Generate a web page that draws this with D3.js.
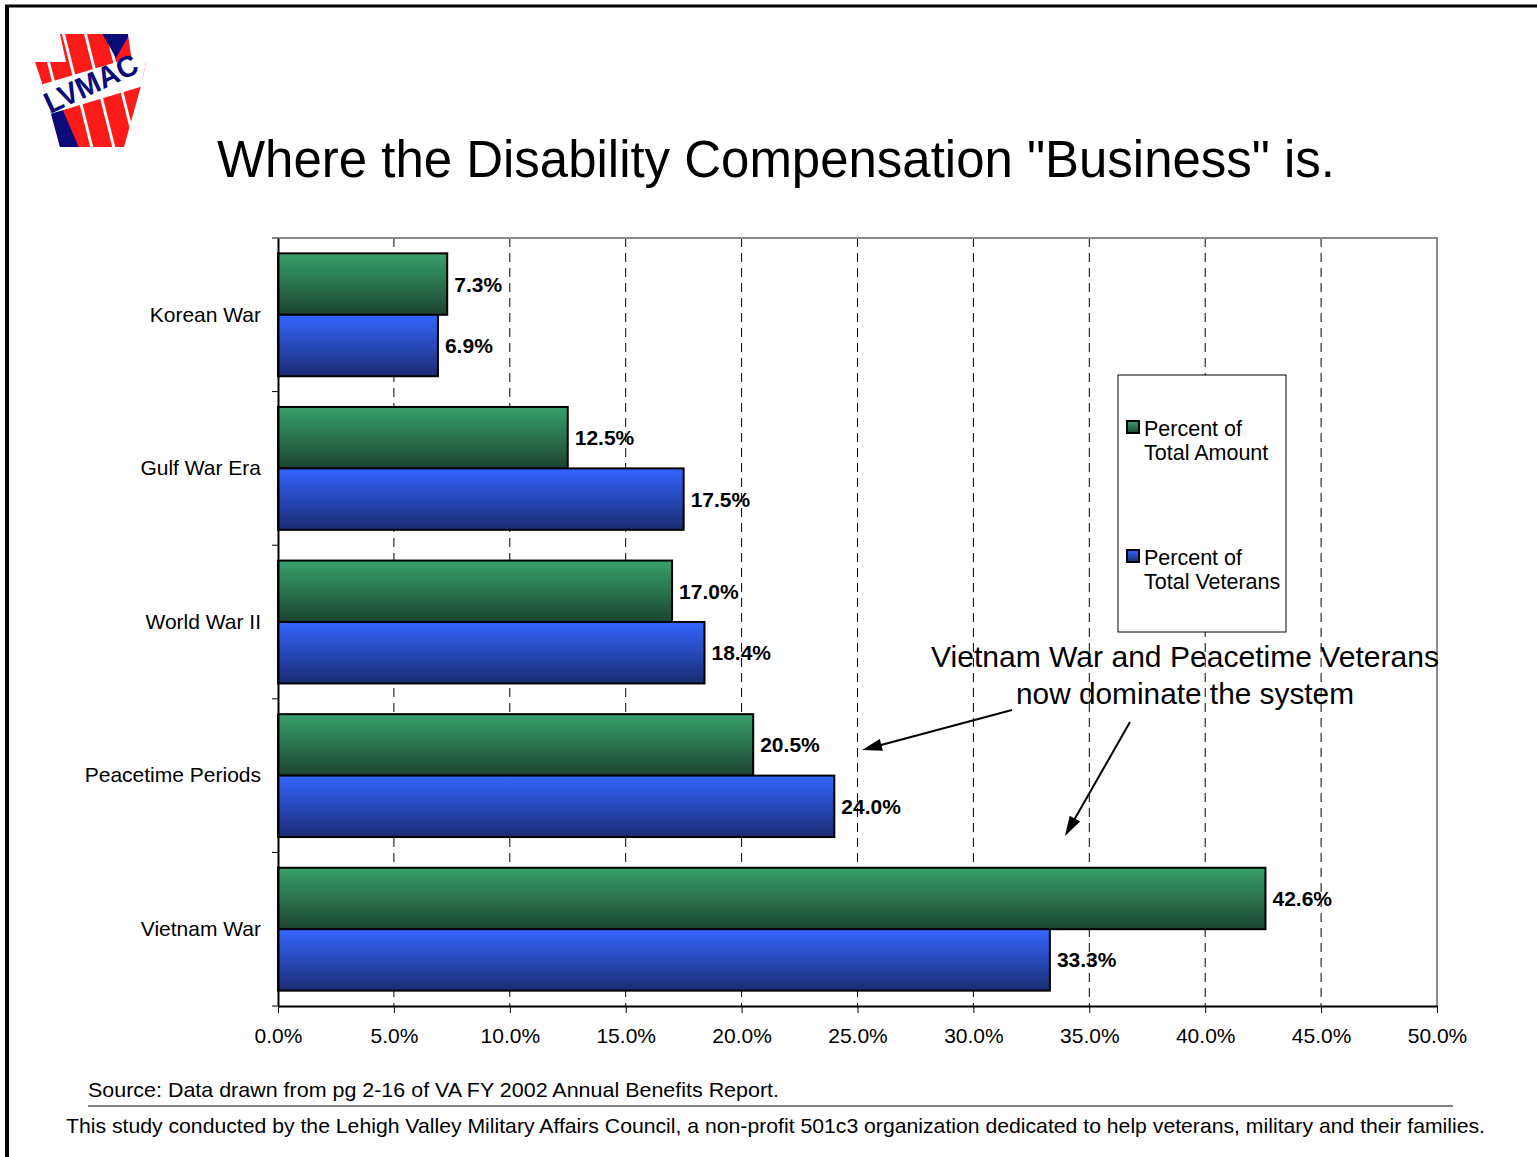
<!DOCTYPE html>
<html>
<head>
<meta charset="utf-8">
<script src="https://cdn.jsdelivr.net/npm/d3@7/dist/d3.min.js"></script>
<style>
  html, body { margin: 0; padding: 0; background: #fff; }
  svg { display: block; font-family: "Liberation Sans", Arial, Helvetica, sans-serif; }
</style>
</head>
<body>
<svg id="chart" width="1537" height="1157"></svg>
<script>
// Service eras, top to bottom
const categories = ["Korean War", "Gulf War Era", "World War II", "Peacetime Periods", "Vietnam War"];
// Share of total compensation dollars (%)
const percentAmount = [7.3, 12.5, 17.0, 20.5, 42.6];
// Share of total veterans receiving compensation (%)
const percentVeterans = [6.9, 17.5, 18.4, 24.0, 33.3];
const seriesNames = ["Percent of Total Amount", "Percent of Total Veterans"];
const xTicks = [0, 5, 10, 15, 20, 25, 30, 35, 40, 45, 50];

const svg = d3.select("#chart");
const W = 1537, H = 1157;
const plot = { left: 278, right: 1437, top: 238, bottom: 1006 };

// Gradients for the bar fills
const defs = svg.append("defs");
function vGrad(id, top, bottom) {
  const g = defs.append("linearGradient").attr("id", id)
    .attr("x1", 0).attr("y1", 0).attr("x2", 0).attr("y2", 1);
  g.append("stop").attr("offset", "0%").attr("stop-color", top);
  g.append("stop").attr("offset", "100%").attr("stop-color", bottom);
}
vGrad("gGreen", "#37a06d", "#1c4430");
vGrad("gBlue", "#3366ff", "#1a2b72");

// Page frame
svg.append("line").attr("x1", 5).attr("x2", W).attr("y1", 6).attr("y2", 6)
  .attr("stroke", "#000").attr("stroke-width", 3);
svg.append("line").attr("x1", 7).attr("x2", 7).attr("y1", 5).attr("y2", H)
  .attr("stroke", "#000").attr("stroke-width", 4);

// Logo: keystone with stripes and lettering
const logo = svg.append("g");
defs.append("clipPath").attr("id", "keystone").append("polygon")
  .attr("points", "60,34 128,34 132,62 146,62 141,86 124,147 60,147 46,95 35,62 66,62");
const lg = logo.append("g").attr("clip-path", "url(#keystone)");
lg.append("rect").attr("x", 30).attr("y", 30).attr("width", 120).attr("height", 120).attr("fill", "#fff");
// slanted red stripes
const stripeXs = [20, 42, 64, 86, 108, 130];
stripeXs.forEach(sx => {
  lg.append("polygon")
    .attr("points", `${sx},30 ${sx + 19},30 ${sx + 49},150 ${sx + 30},150`)
    .attr("fill", "#ff1a1a");
});
// navy corners
lg.append("polygon").attr("points", "100,30 132,30 116,58").attr("fill", "#0a0a78");
lg.append("polygon").attr("points", "44,112 62,108 80,150 56,150").attr("fill", "#0a0a78");
// white band behind lettering
lg.append("polygon").attr("points", "30,88 150,52 150,84 30,120").attr("fill", "#fff");
logo.append("text").attr("x", 0).attr("y", 0)
  .attr("transform", "translate(50,114) rotate(-25)")
  .attr("font-size", 30).attr("font-weight", "bold").attr("fill", "#0a0a78")
  .attr("textLength", 100).attr("lengthAdjust", "spacingAndGlyphs")
  .text("LVMAC");

// Title
svg.append("text").attr("x", 776).attr("y", 177).attr("text-anchor", "middle")
  .attr("font-size", 51).attr("fill", "#000")
  .attr("textLength", 1118).attr("lengthAdjust", "spacingAndGlyphs")
  .text('Where the Disability Compensation "Business" is.');

// Scales
const x = d3.scaleLinear().domain([0, 50]).range([plot.left, plot.right]);
const y = d3.scaleBand().domain(categories).range([plot.top, plot.bottom])
  .paddingInner(0.2).paddingOuter(0.1);
const yCat = d3.scaleBand().domain(categories).range([plot.top, plot.bottom]);

// Dashed vertical gridlines
svg.append("g").selectAll("line").data(xTicks.filter(t => t > 0 && t < 50)).join("line")
  .attr("x1", d => x(d)).attr("x2", d => x(d))
  .attr("y1", plot.top).attr("y2", plot.bottom)
  .attr("stroke", "#000").attr("stroke-width", 1).attr("stroke-dasharray", "9,6");

// Plot frame (top and right in gray)
svg.append("path")
  .attr("d", `M${plot.left},${plot.top}H${plot.right}V${plot.bottom}`)
  .attr("fill", "none").attr("stroke", "#8c8c8c").attr("stroke-width", 2);

// Bars
const half = y.bandwidth() / 2;
const rows = categories.map((c, i) => ({ c, a: percentAmount[i], v: percentVeterans[i] }));
const bars = svg.append("g");
bars.selectAll("rect.amt").data(rows).join("rect").attr("class", "amt")
  .attr("x", x(0)).attr("y", d => y(d.c))
  .attr("width", d => x(d.a) - x(0)).attr("height", half)
  .attr("fill", "url(#gGreen)").attr("stroke", "#000").attr("stroke-width", 2);
bars.selectAll("rect.vet").data(rows).join("rect").attr("class", "vet")
  .attr("x", x(0)).attr("y", d => y(d.c) + half)
  .attr("width", d => x(d.v) - x(0)).attr("height", half)
  .attr("fill", "url(#gBlue)").attr("stroke", "#000").attr("stroke-width", 2);

// Value labels
const fmt = d => d.toFixed(1) + "%";
svg.append("g").selectAll("text").data(rows).join("text")
  .attr("x", d => x(d.a) + 7).attr("y", d => y(d.c) + half / 2)
  .attr("dy", "0.36em").attr("font-size", 21).attr("font-weight", "bold")
  .text(d => fmt(d.a));
svg.append("g").selectAll("text").data(rows).join("text")
  .attr("x", d => x(d.v) + 7).attr("y", d => y(d.c) + half * 1.5)
  .attr("dy", "0.36em").attr("font-size", 21).attr("font-weight", "bold")
  .text(d => fmt(d.v));

// Axes
const xAxis = svg.append("g").attr("transform", `translate(0,${plot.bottom})`)
  .call(d3.axisBottom(x).tickValues(xTicks).tickFormat(d => d.toFixed(1) + "%")
    .tickSize(7).tickSizeOuter(0).tickPadding(15));
xAxis.select(".domain").attr("stroke", "#000").attr("stroke-width", 2);
xAxis.selectAll(".tick line").attr("stroke", "#000");
xAxis.selectAll("text").attr("font-size", 21).attr("font-family", "'Liberation Sans', Arial, sans-serif").attr("fill", "#000");

const yAxis = svg.append("g").attr("transform", `translate(${plot.left},0)`)
  .call(d3.axisLeft(yCat).tickSize(0).tickPadding(17));
yAxis.select(".domain").attr("stroke", "#000").attr("stroke-width", 2);
yAxis.selectAll("text").attr("font-size", 21).attr("font-family", "'Liberation Sans', Arial, sans-serif").attr("fill", "#000");
// category separator ticks
const seps = categories.map(c => yCat(c)).concat([plot.bottom]);
svg.append("g").selectAll("line").data(seps).join("line")
  .attr("x1", plot.left - 6).attr("x2", plot.left)
  .attr("y1", d => d).attr("y2", d => d)
  .attr("stroke", "#000").attr("stroke-width", 1);

// Legend
const leg = svg.append("g");
leg.append("rect").attr("x", 1118).attr("y", 375).attr("width", 168).attr("height", 257)
  .attr("fill", "#fff").attr("stroke", "#000").attr("stroke-width", 1);
const legItems = [
  { fill: "url(#gGreen)", lines: ["Percent of", "Total Amount"], y: 421 },
  { fill: "url(#gBlue)", lines: ["Percent of", "Total Veterans"], y: 550 }
];
legItems.forEach((it, i) => {
  leg.append("rect").attr("x", 1127).attr("y", it.y).attr("width", 12).attr("height", 12)
    .attr("fill", it.fill).attr("stroke", "#000").attr("stroke-width", 2);
  const t = leg.append("text").attr("font-size", 21.5).attr("fill", "#000")
    .attr("aria-label", seriesNames[i]);
  t.append("tspan").attr("x", 1144).attr("y", it.y + 15).text(it.lines[0]);
  t.append("tspan").attr("x", 1144).attr("y", it.y + 39).text(it.lines[1]);
});

// Annotation
svg.append("text").attr("x", 1185).attr("y", 667).attr("text-anchor", "middle")
  .attr("font-size", 30).attr("textLength", 508).attr("lengthAdjust", "spacingAndGlyphs")
  .text("Vietnam War and Peacetime Veterans");
svg.append("text").attr("x", 1185).attr("y", 704).attr("text-anchor", "middle")
  .attr("font-size", 30).attr("textLength", 338).attr("lengthAdjust", "spacingAndGlyphs")
  .text("now dominate the system");

function arrow(x1, y1, x2, y2) {
  const ang = Math.atan2(y2 - y1, x2 - x1);
  const L = 20, Wd = 6;
  svg.append("line").attr("x1", x1).attr("y1", y1)
    .attr("x2", x2 - Math.cos(ang) * 10).attr("y2", y2 - Math.sin(ang) * 10)
    .attr("stroke", "#000").attr("stroke-width", 2);
  const bx = x2 - Math.cos(ang) * L, by = y2 - Math.sin(ang) * L;
  const px = -Math.sin(ang) * Wd, py = Math.cos(ang) * Wd;
  svg.append("path")
    .attr("d", `M${x2},${y2}L${bx + px},${by + py}L${bx - px},${by - py}Z`)
    .attr("fill", "#000");
}
arrow(1012, 710, 862, 750);
arrow(1130, 722, 1065, 836);

// Source and footer
svg.append("text").attr("x", 88).attr("y", 1097).attr("font-size", 21)
  .attr("textLength", 691).attr("lengthAdjust", "spacingAndGlyphs")
  .text("Source:  Data drawn from pg 2-16 of VA FY 2002 Annual Benefits Report.");
svg.append("line").attr("x1", 88).attr("x2", 1453).attr("y1", 1106).attr("y2", 1106)
  .attr("stroke", "#000").attr("stroke-width", 1);
svg.append("text").attr("x", 775.5).attr("y", 1133).attr("text-anchor", "middle").attr("font-size", 21)
  .attr("textLength", 1419).attr("lengthAdjust", "spacingAndGlyphs")
  .text("This study conducted by the Lehigh Valley Military Affairs Council, a non-profit 501c3 organization dedicated to help veterans, military and their families.");
</script>
</body>
</html>
